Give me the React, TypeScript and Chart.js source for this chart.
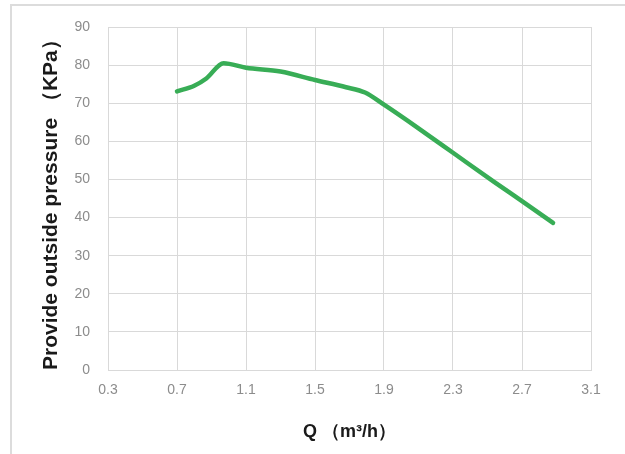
import React, { useEffect, useRef } from "react";
import { Chart, registerables } from "chart.js";

Chart.register(...registerables);

const flowQ = [0.7, 0.8, 0.87, 0.97, 1.1, 1.3, 1.5, 1.68, 1.79, 1.9, 2.1, 2.3, 2.54, 2.7, 2.88];
const pressureKPa = [73.1, 74.6, 76.5, 80.5, 79.3, 78.3, 76.1, 74.2, 72.8, 69.6, 63.4, 57.0, 49.3, 44.3, 38.6];
const xTickValues = [0.3, 0.7, 1.1, 1.5, 1.9, 2.3, 2.7, 3.1];
const yTickValues = [0, 10, 20, 30, 40, 50, 60, 70, 80, 90];
const xTitle = "Q （m³/h）";
const yTitle = "Provide outside pressure （KPa）";

export default function App() {
  const canvasRef = useRef<HTMLCanvasElement | null>(null);

  useEffect(() => {
    if (!canvasRef.current) return;
    const gridColor = "#d9d9d9";
    const tickFont = { family: "'Liberation Sans', Arial, sans-serif", size: 14 };
    const xTitleFont = { family: "'Liberation Sans', Arial, sans-serif", size: 18, weight: "bold" as const };
    const yTitleFont = { family: "'Liberation Sans', Arial, sans-serif", size: 21, weight: "bold" as const };
    const chart = new Chart(canvasRef.current, {
      type: "scatter",
      data: {
        datasets: [
          {
            data: flowQ.map((q, i) => ({ x: q, y: pressureKPa[i] })),
            showLine: true,
            borderColor: "#38ad56",
            backgroundColor: "#38ad56",
            borderWidth: 4.5,
            pointRadius: 0,
            tension: 0.35,
            cubicInterpolationMode: "monotone",
            borderCapStyle: "round",
            borderJoinStyle: "round",
          },
        ],
      },
      options: {
        animation: false,
        responsive: false,
        maintainAspectRatio: false,
        layout: { padding: { left: 0, right: 34, top: 27, bottom: 0 } },
        plugins: { legend: { display: false }, tooltip: { enabled: false } },
        scales: {
          x: {
            type: "linear",
            min: 0.3,
            max: 3.1,
            afterBuildTicks: (scale: any) => {
              scale.ticks = xTickValues.map((v) => ({ value: v }));
            },
            afterFit: (scale: any) => {
              scale.height = 84;
            },
            ticks: {
              color: "#8c8c8c",
              font: tickFont,
              padding: 12,
              maxRotation: 0,
              callback: (v: any) => Number(v).toFixed(1),
            },
            grid: { color: gridColor, lineWidth: 1, drawTicks: false },
            border: { color: gridColor, width: 1 },
            title: {
              display: true,
              text: xTitle,
              color: "#1a1a1a",
              font: xTitleFont,
              padding: { top: 0, bottom: 11 },
            },
          },
          y: {
            type: "linear",
            min: 0,
            max: 90,
            afterBuildTicks: (scale: any) => {
              scale.ticks = yTickValues.map((v) => ({ value: v }));
            },
            afterFit: (scale: any) => {
              scale.width = 108;
            },
            ticks: {
              color: "#8c8c8c",
              font: tickFont,
              padding: 18,
            },
            grid: { color: gridColor, lineWidth: 1, drawTicks: false },
            border: { color: gridColor, width: 1 },
            title: {
              display: true,
              text: yTitle,
              align: "start",
              color: "#1a1a1a",
              font: yTitleFont,
              padding: { top: 39, bottom: 0 },
            },
          },
        },
      },
    });
    return () => chart.destroy();
  }, []);

  return (
    <div style={{ position: "absolute", left: 0, top: 0, width: 625, height: 454, background: "#fff", overflow: "hidden" }}>
      <div
        style={{
          position: "absolute",
          left: 10,
          top: 4,
          right: -4,
          bottom: -4,
          borderTop: "2px solid #dcdcdc",
          borderLeft: "2px solid #dcdcdc",
        }}
      />
      <canvas ref={canvasRef} width={625} height={454} style={{ position: "absolute", left: 0, top: 0 }} />
    </div>
  );
}
